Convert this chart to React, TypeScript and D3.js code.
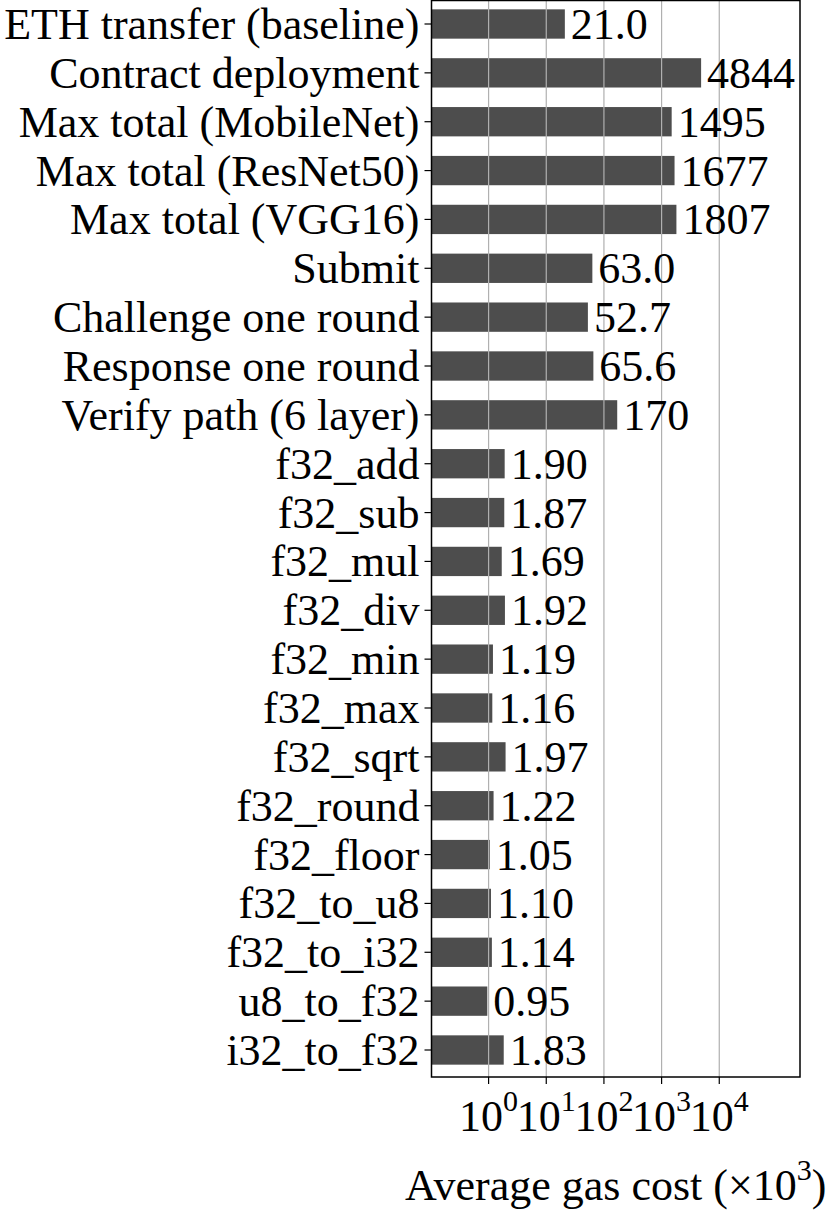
import React from "react";
import * as d3 from "d3";

const categories = [
  "ETH transfer (baseline)",
  "Contract deployment",
  "Max total (MobileNet)",
  "Max total (ResNet50)",
  "Max total (VGG16)",
  "Submit",
  "Challenge one round",
  "Response one round",
  "Verify path (6 layer)",
  "f32_add",
  "f32_sub",
  "f32_mul",
  "f32_div",
  "f32_min",
  "f32_max",
  "f32_sqrt",
  "f32_round",
  "f32_floor",
  "f32_to_u8",
  "f32_to_i32",
  "u8_to_f32",
  "i32_to_f32",
];

const values = [
  21.0, 4844, 1495, 1677, 1807, 63.0, 52.7, 65.6, 170, 1.9, 1.87, 1.69, 1.92,
  1.19, 1.16, 1.97, 1.22, 1.05, 1.1, 1.14, 0.95, 1.83,
];

const tickExponents = [0, 1, 2, 3, 4];

const FONT = "'Liberation Serif', 'Times New Roman', serif";

function fmt(v: number): string {
  if (v >= 100) return v.toFixed(0);
  if (v >= 10) return v.toFixed(1);
  return v.toFixed(2);
}

export default function App() {
  const W = 830;
  const H = 1212;
  const left = 431.5;
  const right = 800;
  const top = 0.5;
  const bottom = 1077;

  const x = d3
    .scaleLog()
    .domain([Math.pow(10, -0.99), Math.pow(10, 5.4)])
    .range([left, right]);

  const y = d3.scalePoint<string>().domain(categories).range([24, 1050]);
  const step = y.step();
  const bh = step * 0.6;

  const fs = 44;

  return (
    <svg
      width={W}
      height={H}
      style={{ position: "absolute", left: 0, top: 0, background: "#fff" }}
      fontFamily={FONT}
    >
      <rect x={0} y={0} width={W} height={H} fill="#fff" />
      {categories.map((c, i) => (
        <rect
          key={c}
          x={left}
          y={(y(c) as number) - bh / 2}
          width={x(values[i]) - left}
          height={bh}
          fill="#4d4d4d"
        />
      ))}
      {tickExponents.map((e) => (
        <line
          key={"g" + e}
          x1={x(Math.pow(10, e))}
          x2={x(Math.pow(10, e))}
          y1={top}
          y2={bottom}
          stroke="#b0b0b0"
          strokeWidth={1.2}
        />
      ))}
      {categories.map((c, i) => (
        <text
          key={"v" + c}
          x={x(values[i]) + 6}
          y={(y(c) as number) + 15}
          fontSize={fs}
          fill="#000"
        >
          {fmt(values[i])}
        </text>
      ))}
      {categories.map((c) => (
        <g key={"t" + c}>
          <line
            x1={left - 7}
            x2={left}
            y1={y(c) as number}
            y2={y(c) as number}
            stroke="#000"
            strokeWidth={1.2}
          />
          <text
            x={left - 12}
            y={(y(c) as number) + 15}
            fontSize={fs}
            textAnchor="end"
            fill="#000"
          >
            {c}
          </text>
        </g>
      ))}
      <rect
        x={left}
        y={top}
        width={right - left}
        height={bottom - top}
        fill="none"
        stroke="#000"
        strokeWidth={1.5}
      />
      {tickExponents.map((e) => {
        const tx = x(Math.pow(10, e));
        return (
          <g key={"x" + e}>
            <line x1={tx} x2={tx} y1={bottom} y2={bottom + 7} stroke="#000" strokeWidth={1.2} />
            <text x={tx} y={1131} fontSize={44} textAnchor="middle" fill="#000">
              10
              <tspan dy={-20} fontSize={30}>
                {e}
              </tspan>
            </text>
          </g>
        );
      })}
      <text x={(left + right) / 2} y={1200} fontSize={fs} textAnchor="middle" fill="#000">
        Average gas cost (×10
        <tspan dy={-20} fontSize={30}>
          3
        </tspan>
        <tspan dy={20}>)</tspan>
      </text>
    </svg>
  );
}
